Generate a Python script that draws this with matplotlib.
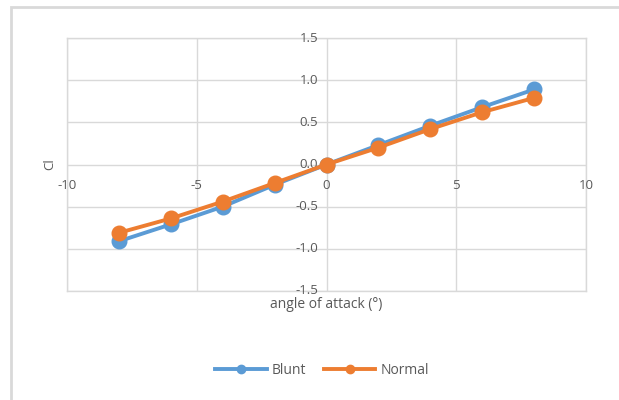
import matplotlib
matplotlib.use("Agg")
import matplotlib.pyplot as plt
from matplotlib.patches import Rectangle
from matplotlib.lines import Line2D

angle = [-8, -6, -4, -2, 0, 2, 4, 6, 8]
cl_blunt = [-0.91, -0.71, -0.50, -0.24, 0.0, 0.23, 0.46, 0.68, 0.89]
cl_normal = [-0.81, -0.64, -0.44, -0.22, 0.0, 0.20, 0.42, 0.62, 0.79]

x_ticks = [-10, -5, 0, 5, 10]
y_ticks = [-1.5, -1.0, -0.5, 0.0, 0.5, 1.0, 1.5]

BLUE = "#5B9BD5"
ORANGE = "#ED7D31"
TEXT = "#595959"
GRID = "#D9D9D9"

plt.rcParams["font.family"] = ["Open Sans", "DejaVu Sans"]

W, H = 619, 400
fig = plt.figure(figsize=(W / 100, H / 100), dpi=100)

# chart frame
fig.patches.append(Rectangle((11 / W, -0.1), 1.2, (H - 7) / H + 0.1,
                             transform=fig.transFigure, fill=False,
                             edgecolor="#D9D9D9", linewidth=2.0))

ax = fig.add_axes([67 / W, 1 - 291 / H, (586 - 67) / W, (291 - 38) / H])
ax.set_xlim(-10, 10)
ax.set_ylim(-1.5, 1.5)
ax.set_xticks(x_ticks)
ax.set_yticks(y_ticks)
ax.grid(True, color=GRID, linewidth=1.0)
ax.set_axisbelow(True)
for s in ax.spines.values():
    s.set_color(GRID)
    s.set_linewidth(1.0)
ax.tick_params(length=0, labelsize=9, colors=TEXT)
ax.set_xticklabels([])
ax.set_yticklabels([])

# tick labels sit next to the zero axes
for v in x_ticks:
    ax.annotate(f"{v:g}", (v, 0), xytext=(0, -15), textcoords="offset points",
                ha="center", va="center", fontsize=9.5, color=TEXT)
for v in y_ticks:
    ax.annotate(f"{v:.1f}", (0, v), xytext=(-6, 0), textcoords="offset points",
                ha="right", va="center", fontsize=9.5, color=TEXT)

ax.plot(angle, cl_blunt, color=BLUE, linewidth=2.8, marker="o",
        markersize=10.5, label="Blunt", zorder=3)
ax.plot(angle, cl_normal, color=ORANGE, linewidth=2.8, marker="o",
        markersize=10.5, label="Normal", zorder=4)

fig.text(50 / W, 1 - 164 / H, "Cl", rotation=90, ha="center", va="center",
         fontsize=9.5, color=TEXT)
fig.text(326 / W, 1 - 305 / H, "angle of attack (°)", ha="center",
         va="center", fontsize=10, color=TEXT)

handles = [Line2D([], [], color=BLUE, linewidth=2.8, marker="o", markersize=6),
           Line2D([], [], color=ORANGE, linewidth=2.8, marker="o", markersize=6)]
fig.legend(handles, ["Blunt", "Normal"], loc="center",
           bbox_to_anchor=(322 / W, 1 - 370 / H), ncol=2, frameon=False,
           fontsize=10, labelcolor=TEXT, handlelength=3.7, columnspacing=1.3,
           handletextpad=0.35)

fig.savefig("out.png", dpi=100)
